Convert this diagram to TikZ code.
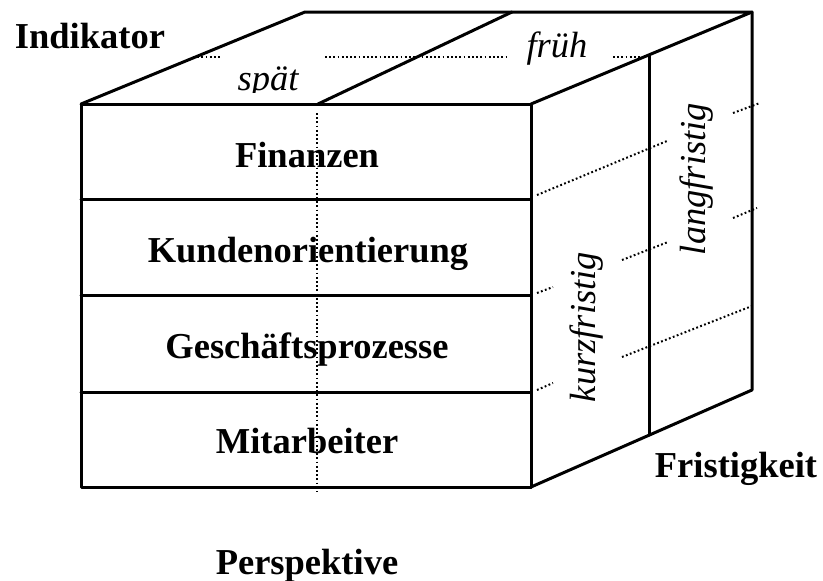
\documentclass[tikz,border=0pt]{standalone}
\usepackage{fontspec}
\setmainfont{Liberation Serif}
\begin{document}
\begin{tikzpicture}[x=1pt,y=-1pt,
  edge/.style={line width=3pt,line cap=round,line join=round},
  dotline/.style={line width=2pt,dash pattern=on 1.8pt off 2.4pt},
  bigbold/.style={font=\fontsize{36.5}{40}\selectfont\bfseries,inner sep=0pt},
  bigital/.style={font=\fontsize{36.5}{40}\selectfont\itshape,inner sep=0pt}]
\useasboundingbox (0,0) rectangle (823,581);

% corners of the cube
\coordinate (ftl) at (81,104);
\coordinate (ftr) at (531,104);
\coordinate (fbr) at (531,487);
\coordinate (fbl) at (81,487);
\coordinate (btl) at (305,12);
\coordinate (btr) at (752,12);
\coordinate (bbr) at (752,390);
\coordinate (topmidf) at (318,104);
\coordinate (topmidb) at (512,12);
\coordinate (sidemidt) at (649,56);
\coordinate (sidemidb) at (649,435);

% front face with four perspective rows
\draw[edge] (ftl) rectangle (fbr);
\foreach \y in {199,295,392}
  \draw[edge] (81,\y) -- (531,\y);

% top face
\draw[edge] (ftl) -- (btl) -- (btr) -- (ftr);
\draw[edge] (topmidf) -- (topmidb);

% right face
\draw[edge] (btr) -- (bbr) -- (fbr);
\draw[edge] (sidemidt) -- (sidemidb);

% dotted guides on the top face
\draw[dotline] (193,57) -- (222,57);
\draw[dotline] (325,57) -- (508,57);
\draw[dotline] (613,57) -- (645,57);

% dotted continuation of the rows on the right face
\draw[dotline] (537,195) -- (667,141);
\draw[dotline] (733,113) -- (760,103);
\draw[dotline] (537,293) -- (553,287);
\draw[dotline] (622,260) -- (668,242);
\draw[dotline] (733,218) -- (757,208);
\draw[dotline] (537,390) -- (553,383);
\draw[dotline] (622,357) -- (752,306);

% dotted divider on the front face
\draw[dotline] (317,113) -- (317,492);

% row labels
\node[bigbold,anchor=base] (fin) at (307,167) {Finanzen};
\node[bigbold,anchor=base] (kun) at (308,262) {Kundenorientierung};
\node[bigbold,anchor=base] (ges) at (307,358) {Geschäftsprozesse};
\node[bigbold,anchor=base] (mit) at (307,453) {Mitarbeiter};

% axis titles
\node[bigbold,anchor=base] (ind) at (90,48) {Indikator};
\node[bigbold,anchor=base] (fri) at (736,477) {Fristigkeit};
\node[bigbold,anchor=base] (per) at (307,574) {Perspektive};

% indicator labels
\begin{scope}
  \clip (200,60) rectangle (340,92);
  \node[bigital,anchor=base] (spaet) at (268,90) {spät};
\end{scope}
\node[bigital,anchor=base] (frueh) at (557,57) {früh};

% time horizon labels
\node[bigital,anchor=base,rotate=90] (kurz) at (595,327) {kurzfristig};
\node[bigital,anchor=base,rotate=90] (lang) at (705,179) {langfristig};
\end{tikzpicture}
\end{document}
